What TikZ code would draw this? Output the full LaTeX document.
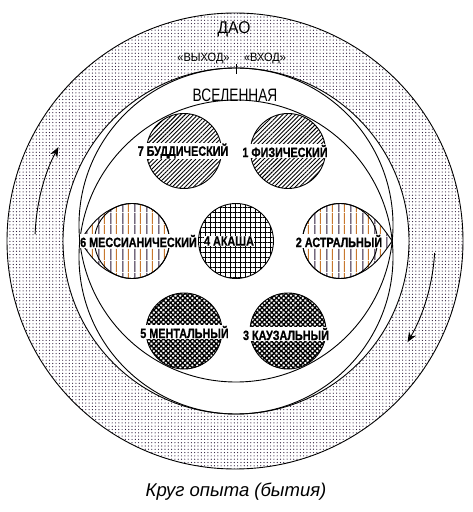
\documentclass[tikz,border=0pt]{standalone}
\usepackage{fontspec}
\setmainfont{Liberation Sans}
\newfontfamily\condL[FakeStretch=0.80,FakeBold=0.8]{Liberation Sans}
\newfontfamily\condU[FakeStretch=0.76]{Liberation Sans}
\newfontfamily\condD[FakeStretch=0.92]{Liberation Sans}
\usetikzlibrary{patterns.meta,arrows.meta,calc}
\definecolor{scanorange}{HTML}{C8782E}
\definecolor{scanpurple}{HTML}{2A1838}
\tikzdeclarepattern{
  name=vstripes, type=colored,
  bottom left={(0pt,0pt)}, top right={(12pt,12pt)}, tile size={(12pt,12pt)},
  code={\fill[scanpurple] (2.5pt,0pt) rectangle (3.5pt,12pt);
        \fill[scanorange] (8.5pt,0pt) rectangle (9.5pt,12pt);}
}
\begin{document}
\begin{tikzpicture}[x=1pt,y=1pt,
  ring/.style={draw=black, line width=0.9pt},
  plane/.style={draw=black, line width=0.9pt},
  lab/.style={font=\condL\bfseries\fontsize{13.5}{14}\selectfont, fill=white, inner sep=0.5pt},
  toplab/.style={font=\condD\fontsize{12}{13}\selectfont, inner sep=0pt},
  arr/.style={line width=0.9pt, -{Stealth[length=10pt,width=8pt]}},
  diag/.style={pattern={Lines[angle=45,distance=3pt,line width=0.9pt]}, pattern color=black},
  vert/.style={pattern=vstripes},
  grd/.style={pattern={Hatch[angle=0,distance=5pt,line width=0.7pt]}, pattern color=black},
  chk/.style={pattern={Hatch[angle=45,distance=3.4pt,line width=1.3pt]}, pattern color=black},
  dotted ring/.style={pattern={Dots[distance=3.3pt,radius=0.6pt]}, pattern color=scanpurple},
]
\useasboundingbox (0,0) rectangle (473,512);
\fill[white] (0,0) rectangle (473,512);
% centres
\coordinate (O) at (235,271);
\coordinate (C) at (236,271);
\coordinate (cU) at (236,287);
\coordinate (cL) at (236,255);
\coordinate (c7) at (184,361);
\coordinate (c1) at (288,361);
\coordinate (c6) at (132,271);
\coordinate (c4) at (236,271);
\coordinate (c2) at (340,271);
\coordinate (c5) at (184,181);
\coordinate (c3) at (288,181);
\coordinate (T6) at (79.8,271);
\coordinate (T2) at (392.2,271);
% DAO ring
\path[dotted ring] (O) circle[radius=228];
\draw[ring] (O) circle[radius=228];
% universe
\fill[white] (C) circle[radius=173];
\draw[ring] (C) circle[radius=173];
\draw[ring] (cU) circle[radius=157];
\draw[ring] (cL) circle[radius=157];
% planes
\draw[plane, diag] (c7) circle[radius=37.5];
\draw[plane, diag] (c1) circle[radius=37.5];
\draw[plane, grd] (c4) circle[radius=37.5];
\draw[plane, chk] (c5) circle[radius=38];
\draw[plane, chk] (c3) circle[radius=38];
\draw[plane, vert] (T6) to[out=55,in=200] ($(c6)+(110:37.5)$) arc[start angle=110,end angle=-110,radius=37.5] to[out=160,in=-55] (T6) -- cycle;
\draw[plane] (c6) circle[radius=37.5];
\draw[plane, vert] (T2) to[out=125,in=-20] ($(c2)+(70:37.5)$) arc[start angle=70,end angle=290,radius=37.5] to[out=20,in=235] (T2) -- cycle;
\draw[plane] (c2) circle[radius=37.5];
% tick
\coordinate (tk1) at (236,448);
\coordinate (tk2) at (236,438);
\draw[line width=0.8pt] (tk1) -- (tk2);
% arrows
\coordinate (la) at ($(O)+(178:200)$);
\coordinate (ra) at ($(O)+(-3.4:200)$);
\draw[arr] (la) arc[start angle=178,end angle=152,radius=200];
\draw[arr] (ra) arc[start angle=-3.4,end angle=-30.4,radius=200];
% texts
\node[font=\condD\fontsize{17}{18}\selectfont] (dao) at (234,483) {ДАО};
\node[toplab] (out) at (203.5,453) {«ВЫХОД»};
\node[toplab] (in) at (265,453) {«ВХОД»};
\node[font=\condU\fontsize{18}{19}\selectfont] (uni) at (235,417) {ВСЕЛЕННАЯ};
\node[lab] (l7) at (183,361) {7 БУДДИЧЕСКИЙ};
\node[lab] (l1) at (285,361) {1 ФИЗИЧЕСКИЙ};
\node[lab] (l6) at (138.5,271) {6 МЕССИАНИЧЕСКИЙ};
\node[lab] (l4) at (229,271) {4 АКАША};
\node[lab] (l2) at (339,271) {2 АСТРАЛЬНЫЙ};
\node[lab] (l5) at (184.5,180) {5 МЕНТАЛЬНЫЙ};
\node[lab] (l3) at (286,178) {3 КАУЗАЛЬНЫЙ};
\node[font=\itshape\fontsize{18.5}{20}\selectfont] (cap) at (236,20) {Круг опыта (бытия)};
\end{tikzpicture}
\end{document}
